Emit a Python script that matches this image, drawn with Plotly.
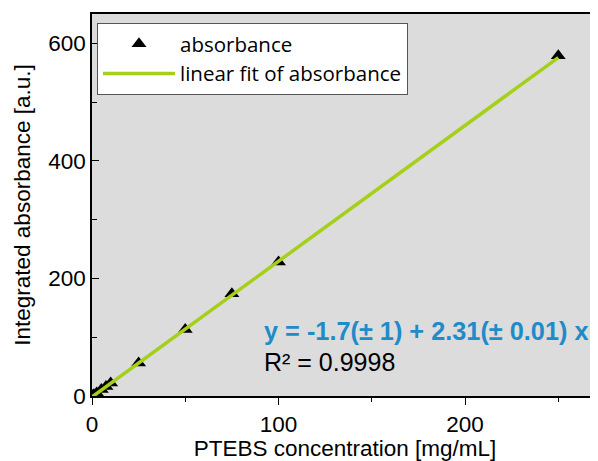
import plotly.graph_objects as go

# Data
conc = [0.5, 1, 2.5, 5, 7.5, 10, 25, 50, 75, 100, 250]
absorb = [1, 2, 5, 11, 16, 22, 56, 113, 174, 228, 579]
fit_intercept = -1.7
fit_slope = 2.31
fit_x = [0, 250]
fit_y = [fit_intercept + fit_slope * v for v in fit_x]

x_ticks = [0, 100, 200]
y_ticks = [0, 200, 400, 600]

fig = go.Figure()
fig.add_trace(go.Scatter(
    x=conc, y=absorb, mode="markers", name="absorbance",
    marker=dict(symbol="triangle-up", color="black", size=13),
))
fig.add_trace(go.Scatter(
    x=fit_x, y=fit_y, mode="lines", name="linear fit of absorbance",
    line=dict(color="#a6cf1a", width=3.5),
))

axis_font = dict(family="Liberation Sans, Arial, sans-serif", size=22.5, color="black")

# page body has an 8px margin; the figure is sized to fill the rest of the window
fig.update_layout(
    width=590, height=453,
    margin=dict(l=84, r=0, t=6, b=65, autoexpand=False),
    paper_bgcolor="white",
    plot_bgcolor="#dcdcdc",
    font=axis_font,
    showlegend=True,
    legend=dict(
        x=(97 - 92) / 506, y=(396 - 23) / 382, xanchor="left", yanchor="top",
        bgcolor="white", bordercolor="#555555", borderwidth=1,
        font=dict(family="Open Sans, sans-serif", size=20.5, color="black"),
        tracegroupgap=0, itemwidth=72,
    ),
    xaxis=dict(
        range=[0, 271.3], tickvals=x_ticks, showgrid=False, zeroline=False,
        showline=True, linecolor="black", linewidth=1.5, mirror=True,
        ticks="outside", ticklen=7, tickwidth=1.2, tickcolor="black",
        minor=dict(dtick=50, ticks="outside", ticklen=4, tickwidth=1.2, tickcolor="black", showgrid=False),
        title=dict(text="PTEBS concentration [mg/mL]", font=axis_font, standoff=4),
        tickfont=axis_font, automargin=False,
    ),
    yaxis=dict(
        range=[0, 650], tickvals=y_ticks, showgrid=False, zeroline=False,
        showline=True, linecolor="black", linewidth=1.5, mirror=False,
        ticks="inside", ticklen=7, tickwidth=1.2, tickcolor="black",
        minor=dict(dtick=100, ticks="inside", ticklen=5, tickwidth=1.2, tickcolor="black", showgrid=False),
        title=dict(text="Integrated absorbance [a.u.]", font=axis_font, standoff=11),
        tickfont=axis_font, automargin=False,
    ),
)

fig.add_annotation(
    x=(262 - 92) / 506, y=(396 - 331) / 382, xref="paper", yref="paper",
    text="<b>y = -1.7(± 1) + 2.31(± 0.01) x</b>",
    showarrow=False, xanchor="left", yanchor="middle",
    font=dict(family="Liberation Sans, Arial, sans-serif", size=25.3, color="#1f8bc9"),
)
fig.add_annotation(
    x=(262 - 92) / 506, y=(396 - 362) / 382, xref="paper", yref="paper", text="R² = 0.9998",
    showarrow=False, xanchor="left", yanchor="middle",
    font=dict(family="Liberation Sans, Arial, sans-serif", size=25, color="black"),
)

fig.write_html("out.html")
